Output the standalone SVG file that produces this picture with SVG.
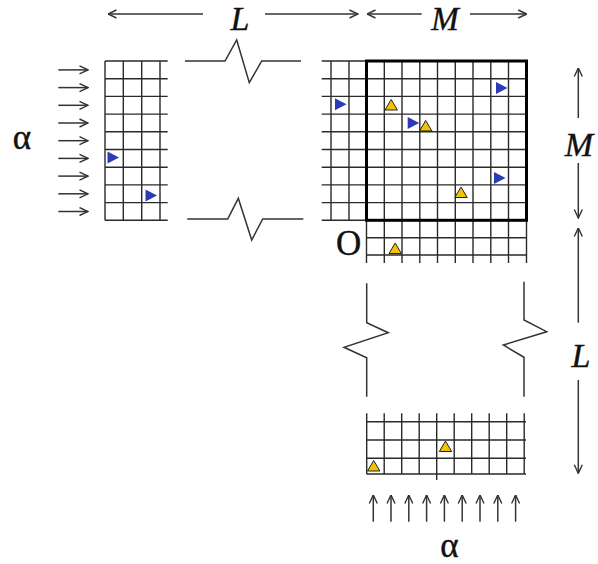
<svg xmlns="http://www.w3.org/2000/svg" width="598" height="564" viewBox="0 0 598 564">
<style>
.g{stroke:#2a2a2a;stroke-width:1.4;fill:none}
.box{stroke:#000;stroke-width:3;fill:none}
.brk{stroke:#333;stroke-width:1.5;fill:none;stroke-linejoin:miter}
.ar{stroke:#333;stroke-width:1.5;fill:none}
.var{font-family:'Liberation Serif','DejaVu Serif','Times New Roman',serif;font-style:italic;font-size:34px;fill:#111;stroke:#111;stroke-width:0.4}
.rom{font-family:'Liberation Serif','DejaVu Serif','Times New Roman',serif;font-size:35px;fill:#111;stroke:#111;stroke-width:0.4}
.bt{fill:#2b3bb5}
.yt{fill:#f2c300;stroke:#222;stroke-width:1}
</style>
<defs>
<marker id="ah" viewBox="0 0 10 10" refX="9.5" refY="5" markerWidth="10" markerHeight="10" markerUnits="userSpaceOnUse" orient="auto-start-reverse">
<path d="M1,1 L9.5,5 L1,9" fill="none" stroke="#333" stroke-width="1.4"/>
</marker>
<path id="btri" d="M0,0 L11.5,6 L0,12 Z"/>
<path id="ytri" d="M0,10.5 L6.2,0 L12.4,10.5 Z"/>
</defs>

<g id="left-grid">
<path class="g" d="M105,61V220.3M123.3,61V220.3M141.7,61V220.3M160,61V220.3
M105,61H167.7M105,78.7H167.7M105,96.4H167.7M105,114.1H167.7M105,131.8H167.7M105,149.5H167.7M105,167.2H167.7M105,184.9H167.7M105,202.6H167.7M105,220.3H167.7"/>
<use href="#btri" class="bt" x="107.5" y="151.5"/>
<use href="#btri" class="bt" x="145.5" y="189.5"/>
</g>

<g id="main-grid">
<path class="g" d="M331,61V220.3M349,61V220.3
M384.3,61V220.3M402,61V220.3M419.8,61V220.3M437.5,61V220.3M455.3,61V220.3M473,61V220.3M490.8,61V220.3M508.5,61V220.3
M321.7,78.7H526.5M321.7,96.4H526.5M321.7,114.1H526.5M321.7,131.8H526.5M321.7,149.5H526.5M321.7,167.2H526.5M321.7,184.9H526.5M321.7,202.6H526.5
M321.7,61H366.5M321.7,220.3H366.5"/>
<path class="g" d="M366.5,237.7H526.5M366.5,255H526.5
M366.5,220.3V263M384.3,220.3V263M402,220.3V263M419.8,220.3V263M437.5,220.3V263M455.3,220.3V263M473,220.3V263M490.8,220.3V263M508.5,220.3V263M526.5,220.3V263"/>
<rect class="box" x="366.5" y="61" width="160" height="159.3"/>
<use href="#btri" class="bt" x="335" y="98.3"/>
<use href="#btri" class="bt" x="407.7" y="117"/>
<use href="#btri" class="bt" x="496" y="82"/>
<use href="#btri" class="bt" x="494" y="172"/>
<use href="#ytri" class="yt" x="385" y="99.5"/>
<use href="#ytri" class="yt" x="419.5" y="120.5"/>
<use href="#ytri" class="yt" x="454.8" y="187"/>
<use href="#ytri" class="yt" x="389" y="243"/>
<text class="rom" x="336" y="255">O</text>
</g>

<g id="bottom-grid">
<path class="g" d="M366.7,413.3V474M384.2,413.3V474M401.7,413.3V474M419.2,413.3V474M436.7,413.3V480M454.2,413.3V474M471.7,413.3V474M489.2,413.3V474M506.7,413.3V474M524.2,413.3V474
M366.7,421.7H526M366.7,440H526M366.7,458.3H526M366.7,474H526"/>
<use href="#ytri" class="yt" x="439.3" y="441"/>
<use href="#ytri" class="yt" x="367.5" y="460.5"/>
</g>

<g id="breaks">
<polyline class="brk" points="185,61 225,61 236.7,40 249.3,82.7 261.7,61 301,61"/>
<polyline class="brk" points="187.3,219 227.7,219 238.3,198.3 251.7,240 262.7,219 303.3,219"/>
<polyline class="brk" points="366.7,283.3 366.7,322.7 388.3,332.7 344,347.3 366.7,357.7 366.7,396.7"/>
<polyline class="brk" points="524,281.7 524,320 546.7,331.7 503.3,345 524,357.3 524,396.7"/>
</g>

<g id="labels">
<text class="var" x="240" y="30" text-anchor="middle">L</text>
<text class="var" x="445" y="29.5" text-anchor="middle" style="font-size:33px">M</text>
<text class="var" x="579" y="156" text-anchor="middle">M</text>
<text class="var" x="581" y="367" text-anchor="middle">L</text>
<text class="rom" x="22" y="148.5" text-anchor="middle">α</text>
<text class="rom" x="449.5" y="556.5" text-anchor="middle">α</text>
</g>

<g id="connectors">
<line class="ar" x1="203" y1="14" x2="108" y2="14" marker-end="url(#ah)"/>
<line class="ar" x1="265" y1="14" x2="358" y2="14" marker-end="url(#ah)"/>
<line class="ar" x1="421.7" y1="14" x2="367" y2="14" marker-end="url(#ah)"/>
<line class="ar" x1="470" y1="14" x2="526.7" y2="14" marker-end="url(#ah)"/>
<line class="ar" x1="578.3" y1="118" x2="578.3" y2="68" marker-end="url(#ah)"/>
<line class="ar" x1="578.3" y1="163" x2="578.3" y2="218" marker-end="url(#ah)"/>
<line class="ar" x1="578.3" y1="322.7" x2="578.3" y2="228" marker-end="url(#ah)"/>
<line class="ar" x1="578.3" y1="380" x2="578.3" y2="473.3" marker-end="url(#ah)"/>
<g id="left-arrows">
<line class="ar" x1="58.3" y1="69.9" x2="88" y2="69.9" marker-end="url(#ah)"/>
<line class="ar" x1="58.3" y1="87.6" x2="88" y2="87.6" marker-end="url(#ah)"/>
<line class="ar" x1="58.3" y1="105.3" x2="88" y2="105.3" marker-end="url(#ah)"/>
<line class="ar" x1="58.3" y1="123" x2="88" y2="123" marker-end="url(#ah)"/>
<line class="ar" x1="58.3" y1="140.7" x2="88" y2="140.7" marker-end="url(#ah)"/>
<line class="ar" x1="58.3" y1="158.4" x2="88" y2="158.4" marker-end="url(#ah)"/>
<line class="ar" x1="58.3" y1="176.1" x2="88" y2="176.1" marker-end="url(#ah)"/>
<line class="ar" x1="58.3" y1="193.8" x2="88" y2="193.8" marker-end="url(#ah)"/>
<line class="ar" x1="58.3" y1="211.5" x2="88" y2="211.5" marker-end="url(#ah)"/>
</g>
<g id="bottom-arrows">
<line class="ar" x1="373.3" y1="521.7" x2="373.3" y2="495" marker-end="url(#ah)"/>
<line class="ar" x1="391" y1="521.7" x2="391" y2="495" marker-end="url(#ah)"/>
<line class="ar" x1="408.8" y1="521.7" x2="408.8" y2="495" marker-end="url(#ah)"/>
<line class="ar" x1="426.6" y1="521.7" x2="426.6" y2="495" marker-end="url(#ah)"/>
<line class="ar" x1="444.4" y1="521.7" x2="444.4" y2="495" marker-end="url(#ah)"/>
<line class="ar" x1="462.2" y1="521.7" x2="462.2" y2="495" marker-end="url(#ah)"/>
<line class="ar" x1="480" y1="521.7" x2="480" y2="495" marker-end="url(#ah)"/>
<line class="ar" x1="497.8" y1="521.7" x2="497.8" y2="495" marker-end="url(#ah)"/>
<line class="ar" x1="515.6" y1="521.7" x2="515.6" y2="495" marker-end="url(#ah)"/>
</g>
</g>
</svg>
